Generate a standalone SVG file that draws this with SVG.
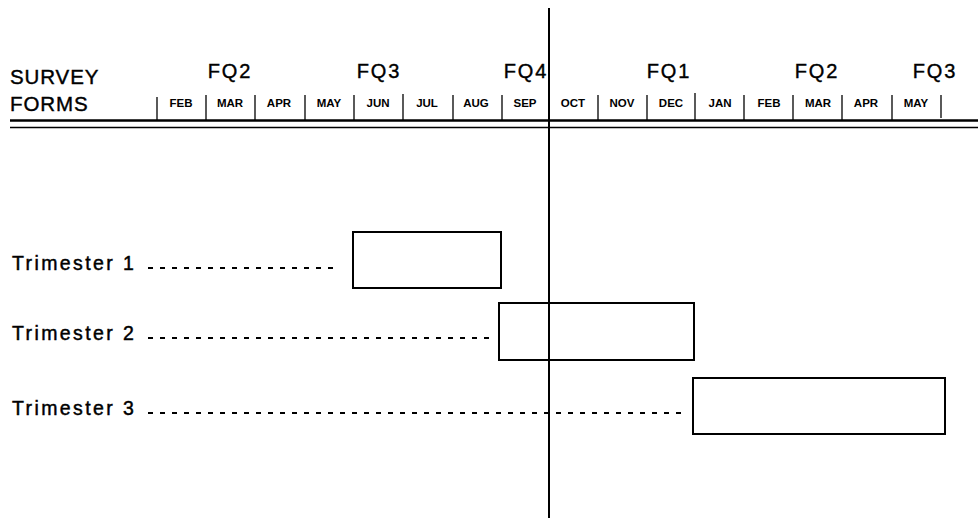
<svg xmlns="http://www.w3.org/2000/svg" width="978" height="519" viewBox="0 0 978 519">
<style>
.hdr{font-family:"Liberation Sans",Arial,sans-serif;font-size:20.5px;fill:#000;stroke:#000;stroke-width:0.4;letter-spacing:0.9px}
.fq{font-family:"Liberation Sans",Arial,sans-serif;font-size:20px;fill:#000;stroke:#000;stroke-width:0.4;text-anchor:middle;letter-spacing:1.8px}
.mo{font-family:"Liberation Sans",Arial,sans-serif;font-size:11.5px;font-weight:bold;fill:#000;text-anchor:middle}
.lbl{font-family:"Liberation Sans",Arial,sans-serif;font-size:19.5px;fill:#000;stroke:#000;stroke-width:0.45;letter-spacing:2.4px}
.div{stroke:#000;stroke-width:1.3}
.dot{stroke:#000;stroke-width:2;stroke-dasharray:5 7;fill:none}
.bar{fill:#fff;stroke:#000;stroke-width:2}
</style>
<rect width="978" height="519" fill="#fff"/>
<g id="header">
<text class="hdr" x="10" y="84">SURVEY</text>
<text class="hdr" x="10" y="111">FORMS</text>
<text class="fq" x="230" y="78">FQ2</text>
<text class="fq" x="379" y="78">FQ3</text>
<text class="fq" x="526" y="78">FQ4</text>
<text class="fq" x="669" y="78">FQ1</text>
<text class="fq" x="817" y="78">FQ2</text>
<text class="fq" x="935" y="78">FQ3</text>
<g id="months">
<text class="mo" x="181" y="107">FEB</text>
<text class="mo" x="230" y="107">MAR</text>
<text class="mo" x="279" y="107">APR</text>
<text class="mo" x="329" y="107">MAY</text>
<text class="mo" x="378" y="107">JUN</text>
<text class="mo" x="427" y="107">JUL</text>
<text class="mo" x="476" y="107">AUG</text>
<text class="mo" x="525" y="107">SEP</text>
<text class="mo" x="573" y="107">OCT</text>
<text class="mo" x="622" y="107">NOV</text>
<text class="mo" x="671" y="107">DEC</text>
<text class="mo" x="720" y="107">JAN</text>
<text class="mo" x="769" y="107">FEB</text>
<text class="mo" x="818" y="107">MAR</text>
<text class="mo" x="866" y="107">APR</text>
<text class="mo" x="916" y="107">MAY</text>
</g>
<g id="dividers">
<line class="div" x1="157" y1="97" x2="157" y2="120"/>
<line class="div" x1="206" y1="95" x2="206" y2="120"/>
<line class="div" x1="255" y1="95" x2="255" y2="120"/>
<line class="div" x1="305" y1="95" x2="305" y2="120"/>
<line class="div" x1="354" y1="95" x2="354" y2="120"/>
<line class="div" x1="403" y1="94" x2="403" y2="120"/>
<line class="div" x1="453" y1="95" x2="453" y2="120"/>
<line class="div" x1="502" y1="95" x2="502" y2="120"/>
<line class="div" x1="598" y1="95" x2="598" y2="120"/>
<line class="div" x1="647" y1="95" x2="647" y2="120"/>
<line class="div" x1="695" y1="93" x2="695" y2="120"/>
<line class="div" x1="744" y1="95" x2="744" y2="120"/>
<line class="div" x1="793" y1="95" x2="793" y2="120"/>
<line class="div" x1="842" y1="95" x2="842" y2="120"/>
<line class="div" x1="892" y1="95" x2="892" y2="120"/>
<line class="div" x1="941" y1="95" x2="941" y2="118"/>
</g>
<line x1="10" y1="120.5" x2="978" y2="120.5" stroke="#000" stroke-width="2.5"/>
<line x1="10" y1="127.5" x2="978" y2="127.5" stroke="#000" stroke-width="1.5"/>
</g>
<g id="connectors">
<line class="dot" x1="148" y1="268" x2="336" y2="268"/>
<line class="dot" x1="148" y1="338" x2="496" y2="338"/>
<line class="dot" x1="148" y1="413" x2="686" y2="413"/>
</g>
<g id="trimester1">
<text class="lbl" x="12" y="270">Trimester 1</text>
<rect class="bar" x="353" y="232" width="148" height="56"/>
</g>
<g id="trimester2">
<text class="lbl" x="12" y="340">Trimester 2</text>
<rect class="bar" x="499" y="303" width="195" height="57"/>
</g>
<g id="trimester3">
<text class="lbl" x="12" y="415">Trimester 3</text>
<rect class="bar" x="693" y="378" width="252" height="56"/>
</g>
<line id="today" x1="549" y1="8" x2="549" y2="518" stroke="#000" stroke-width="2"/>
</svg>
